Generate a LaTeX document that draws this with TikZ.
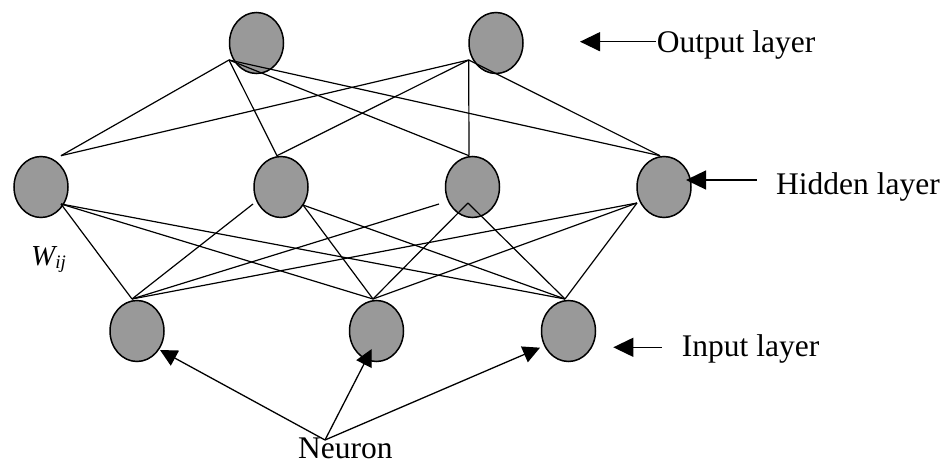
\documentclass[tikz,border=0pt]{standalone}
\usepackage{fontspec}
\setmainfont{Liberation Serif}
\usetikzlibrary{arrows.meta,shapes.geometric}
\definecolor{nodegray}{RGB}{153,153,153}
\begin{document}
\begin{tikzpicture}[x=1pt,y=-1pt,
  neuron/.style={draw=black, line width=1.5pt, fill=nodegray, ellipse,
    minimum width=54pt, minimum height=61pt, inner sep=0pt},
  link/.style={line width=1.2pt},
  lbl/.style={font=\fontsize{31.5}{36}\selectfont, inner sep=0pt, anchor=base west},
  arr/.style={line width=1.3pt, -{Triangle[length=20pt,width=19pt]}},
  narr/.style={line width=1.3pt, -{Triangle[length=17pt,width=17pt]}}]
\useasboundingbox (0,0) rectangle (947,465);
% neurons
\node[neuron] (o1) at (256.5,43) {};
\node[neuron] (o2) at (496,43) {};
\node[neuron] (h1) at (41,187) {};
\node[neuron] (h2) at (281,187) {};
\node[neuron] (h3) at (472.5,187) {};
\node[neuron] (h4) at (664,187) {};
\node[neuron] (i1) at (137,331) {};
\node[neuron] (i2) at (376.5,331) {};
\node[neuron] (i3) at (568.5,331) {};
% connection points
\coordinate (o1p) at (229,60);
\coordinate (o2p) at (468.7,60);
\coordinate (h1t) at (61,155.7);
\coordinate (h2t) at (277,155.7);
\coordinate (h3t) at (469,155.7);
\coordinate (h4t) at (660,155.7);
\coordinate (h1b) at (61,204);
\coordinate (h2b) at (253,204);
\coordinate (h2c) at (303,205);
\coordinate (h3b) at (439,204);
\coordinate (h3c) at (468,203);
\coordinate (h4b) at (637,203);
\coordinate (i1t) at (132,299);
\coordinate (i2t) at (373,299);
\coordinate (i3t) at (565,299);
% output-hidden links
\foreach \h in {h1t,h2t,h3t,h4t}{
  \draw[link] (o1p) -- (\h);
  \draw[link] (o2p) -- (\h);
}
% hidden-input links
\draw[link] (h1b) -- (i1t);
\draw[link] (h1b) -- (i2t);
\draw[link] (h1b) -- (i3t);
\draw[link] (h2b) -- (i1t);
\draw[link] (h2c) -- (i2t);
\draw[link] (h2c) -- (i3t);
\draw[link] (h3b) -- (i1t);
\draw[link] (h3c) -- (i2t);
\draw[link] (h3c) -- (i3t);
\draw[link] (h4b) -- (i1t);
\draw[link] (h4b) -- (i2t);
\draw[link] (h4b) -- (i3t);
% labels
\node[lbl] (outlbl) at (656.7,52.3) {Output layer};
\node[lbl] (hidlbl) at (776,195) {Hidden layer};
\node[lbl] (inlbl) at (681.7,356.7) {Input layer};
\node[lbl] (neulbl) at (298,458) {Neuron};
\node[inner sep=0pt, anchor=base west] (w) at (31,265)
  {\fontsize{29}{31}\selectfont\itshape W\raisebox{-3.3pt}{\fontsize{19}{21}\selectfont ij}};
% label arrows
\coordinate (outtip) at (580,41.7);
\coordinate (outtail) at (655.5,41.7);
\coordinate (hidtip) at (686,180);
\coordinate (hidtail) at (756.7,180);
\coordinate (intip) at (613.3,347.3);
\coordinate (intail) at (661.7,347.3);
\draw[arr] (outtail) -- (outtip);
\draw[arr] (hidtail) -- (hidtip);
\draw[arr] (intail) -- (intip);
% neuron arrows
\coordinate (nsrc) at (325,440);
\coordinate (n1) at (160,350);
\coordinate (n2) at (371.7,349);
\coordinate (n3) at (540,347.7);
\draw[narr] (nsrc) -- (n1);
\draw[narr] (nsrc) -- (n2);
\draw[narr] (nsrc) -- (n3);
\end{tikzpicture}
\end{document}
